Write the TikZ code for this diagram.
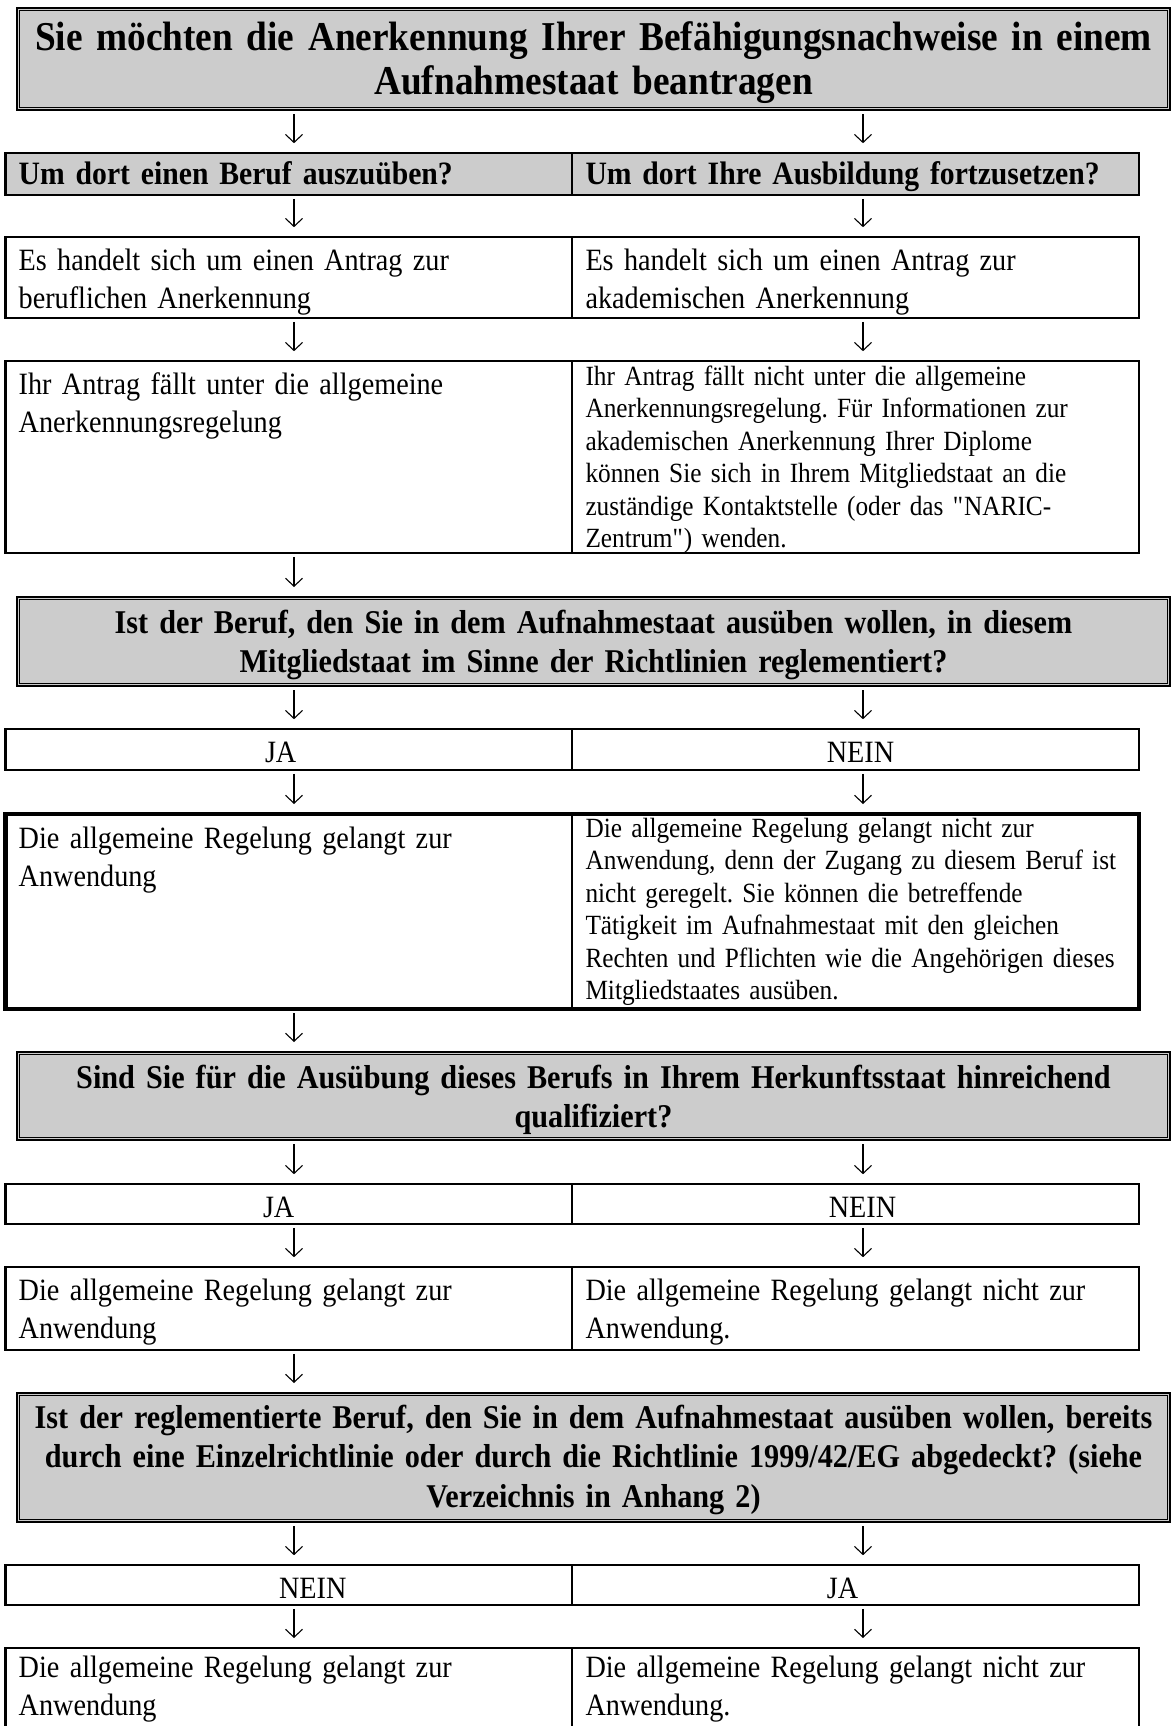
\documentclass[tikz,border=0pt]{standalone}
\usepackage{fontspec}
\setmainfont{Liberation Serif}[FakeStretch=0.91]
\usetikzlibrary{arrows.meta,positioning}
\definecolor{grau}{gray}{0.8}
\frenchspacing

\tikzset{
  frage/.style={draw, fill=grau, line width=1pt, anchor=north west, outer sep=0pt,
    minimum width=576.5pt, text width=568.5pt, inner xsep=4pt, inner ysep=0pt,
    align=center, font=\bfseries\fontsize{16.6}{19.75}\selectfont},
  titel/.style={font=\bfseries\fontsize{20.5}{22}\selectfont},
  zelle/.style={draw, line width=1.25pt, anchor=north west, outer sep=0pt,
    text width=276pt, inner xsep=3.7pt, inner ysep=0pt,
    font=\fontsize{15.5}{19}\selectfont},
  links/.style={align=left, execute at begin node={\leftskip=3pt\relax}},
  mitte/.style={align=center, execute at begin node={\hspace*{#1}}},
  mitte/.default=0pt,
  kopf/.style={fill=grau, font=\bfseries\fontsize{16.3}{19}\selectfont},
  klein/.style={font=\fontsize{13.9}{16.25}\selectfont},
  hoch/.style 2 args={text height=#1, text depth=#2},
  pfeil/.style={-{Straight Barb[length=4pt,width=8.5pt]}, line width=0.55pt,
    shorten <=2pt, shorten >=5pt}
}

\begin{document}
\begin{tikzpicture}[x=0.5pt, y=-0.5pt]
  \path[use as bounding box, clip] (0,0) rectangle (1172,1726);

  % Ausgangsfrage
  \node[frage, titel, hoch={21pt}{30pt}] (q0) at (17,8)
    {Sie möchten die Anerkennung Ihrer Befähigungsnachweise in einem\\Aufnahmestaat beantragen};

  % Zweck
  \node[zelle, links, kopf, hoch={15.4pt}{5.4pt}] (r1l) at (5.3,153.2) {Um dort einen Beruf auszuüben?};
  \node[zelle, links, kopf, hoch={15.4pt}{5.4pt}, right=0pt of r1l] (r1r) {Um dort Ihre Ausbildung fortzusetzen?};

  \node[zelle, links, hoch={16.4pt}{23.9pt}] (r2l) at (5.3,237.2) {Es handelt sich um einen Antrag zur\\beruflichen Anerkennung};
  \node[zelle, links, hoch={16.4pt}{23.9pt}, right=0pt of r2l] (r2r) {Es handelt sich um einen Antrag zur\\akademischen Anerkennung};

  \node[zelle, links, hoch={16.4pt}{79.4pt}] (r3l) at (5.3,361.2) {Ihr Antrag fällt unter die allgemeine\\Anerkennungsregelung};
  \node[zelle, links, klein, hoch={11.9pt}{83.9pt}, right=0pt of r3l] (r3r)
    {Ihr Antrag fällt nicht unter die allgemeine\\Anerkennungsregelung. Für Informationen zur\\akademischen Anerkennung Ihrer Diplome\\können Sie sich in Ihrem Mitgliedstaat an die\\zuständige Kontaktstelle (oder das \textquotedbl NARIC-\\Zentrum\textquotedbl) wenden.};

  % Reglementierung
  \node[frage, hoch={18pt}{26.5pt}] (q2) at (17,597)
    {Ist der Beruf, den Sie in dem Aufnahmestaat ausüben wollen, in diesem\\Mitgliedstaat im Sinne der Richtlinien reglementiert?};

  \node[zelle, mitte=-8pt, hoch={16.4pt}{3.9pt}] (j1l) at (5.3,729.2) {JA};
  \node[zelle, mitte=5pt, hoch={16.4pt}{3.9pt}, right=0pt of j1l] (j1r) {NEIN};

  \node[zelle, links, hoch={17pt}{80.5pt}] (r5l) at (5.3,814) {Die allgemeine Regelung gelangt zur\\Anwendung};
  \node[zelle, links, klein, hoch={11.5pt}{86pt}, right=0pt of r5l] (r5r)
    {Die allgemeine Regelung gelangt nicht zur\\Anwendung, denn der Zugang zu diesem Beruf ist\\nicht geregelt. Sie können die betreffende\\Tätigkeit im Aufnahmestaat mit den gleichen\\Rechten und Pflichten wie die Angehörigen dieses\\Mitgliedstaates ausüben.};
  \draw[line width=2.25pt] (r5l.north west) rectangle (r5r.south east);

  % Qualifikation
  \node[frage, hoch={18pt}{26pt}] (q3) at (17,1052)
    {Sind Sie für die Ausübung dieses Berufs in Ihrem Herkunftsstaat hinreichend\\qualifiziert?};

  \node[zelle, mitte=-10pt, hoch={16.4pt}{3.4pt}] (j2l) at (5.3,1184.2) {JA};
  \node[zelle, mitte=7pt, hoch={16.4pt}{3.4pt}, right=0pt of j2l] (j2r) {NEIN};

  \node[zelle, links, hoch={16.4pt}{24.9pt}] (r6l) at (5.3,1267.2) {Die allgemeine Regelung gelangt zur\\Anwendung};
  \node[zelle, links, hoch={16.4pt}{24.9pt}, right=0pt of r6l] (r6r) {Die allgemeine Regelung gelangt nicht zur\\Anwendung.};

  % Einzelrichtlinie
  \node[frage, hoch={17.5pt}{47pt}] (q4) at (17,1393)
    {Ist der reglementierte Beruf, den Sie in dem Aufnahmestaat ausüben wollen, bereits\\durch eine Einzelrichtlinie oder durch die Richtlinie 1999/42/EG abgedeckt? (siehe\\Verzeichnis in Anhang 2)};

  \node[zelle, mitte=24pt, hoch={16.4pt}{3.4pt}] (j3l) at (5.3,1565.2) {NEIN};
  \node[zelle, mitte=-13pt, hoch={16.4pt}{3.4pt}, right=0pt of j3l] (j3r) {JA};

  \node[zelle, links, hoch={14.5pt}{45.5pt}] (r8l) at (5.3,1648) {Die allgemeine Regelung gelangt zur\\Anwendung};
  \node[zelle, links, hoch={14.5pt}{45.5pt}, right=0pt of r8l] (r8r) {Die allgemeine Regelung gelangt nicht zur\\Anwendung.};

  % innere Linie der Frageboxen
  \foreach \q in {q0,q2,q3,q4}
    \draw[line width=0.5pt] ([shift={(1.3pt,-1.3pt)}]\q.north west) rectangle ([shift={(-1.3pt,1.3pt)}]\q.south east);

  % Pfeile
  \coordinate (pl) at (294,0);
  \coordinate (pr) at (863,0);
  \foreach \von/\nach/\x in {q0/r1l/pl, q0/r1r/pr, r1l/r2l/pl, r1r/r2r/pr, r2l/r3l/pl, r2r/r3r/pr,
      r3l/q2/pl, q2/j1l/pl, q2/j1r/pr, j1l/r5l/pl, j1r/r5r/pr, r5l/q3/pl,
      q3/j2l/pl, q3/j2r/pr, j2l/r6l/pl, j2r/r6r/pr, r6l/q4/pl,
      q4/j3l/pl, q4/j3r/pr, j3l/r8l/pl, j3r/r8r/pr}
    \draw[pfeil] (\von.south -| \x) -- (\nach.north -| \x);
\end{tikzpicture}
\end{document}
